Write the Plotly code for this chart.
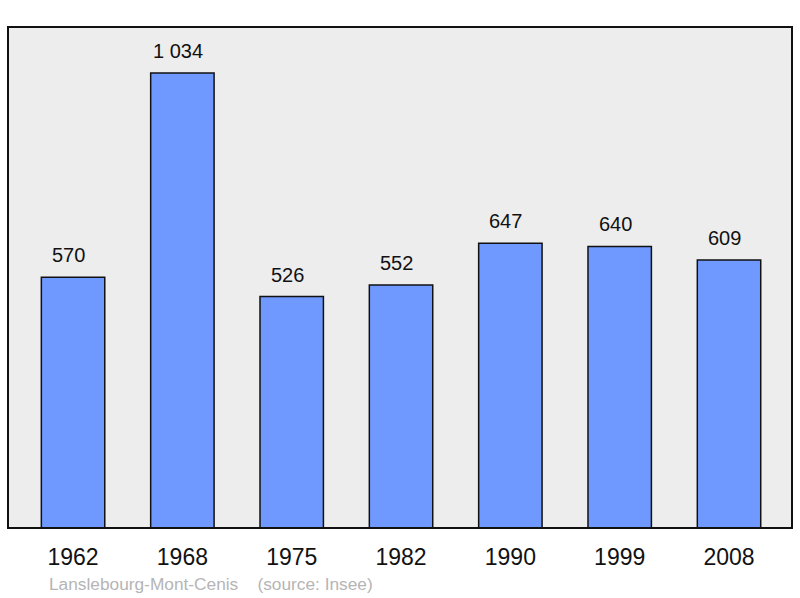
import plotly.graph_objects as go

years = ["1962", "1968", "1975", "1982", "1990", "1999", "2008"]
population = [570, 1034, 526, 552, 647, 640, 609]
value_labels = ["570", "1 034", "526", "552", "647", "640", "609"]
source_text = "Lanslebourg-Mont-Cenis    (source: Insee)"

fig = go.Figure()
fig.add_trace(go.Bar(
    x=list(range(len(years))), y=population, width=0.58,
    marker=dict(color="#7099ff", line=dict(color="#111111", width=1.5)),
    hoverinfo="skip",
))

for i, (v, lab) in enumerate(zip(population, value_labels)):
    fig.add_annotation(x=i, y=v, text=lab, showarrow=False, yanchor="bottom",
                       yshift=9, xshift=-4.5, font=dict(size=20, color="#111111"))

fig.add_annotation(xref="paper", yref="paper", x=(47 - 8) / 784, y=-(584 - 528) / 501,
                   xanchor="left", yanchor="middle", text=source_text, showarrow=False,
                   font=dict(size=17.3, color="#b5b5b5"))

fig.add_shape(type="rect", xref="paper", yref="paper", x0=0, x1=1, y0=0, y1=1,
              line=dict(color="#111111", width=2), layer="above")

fig.update_layout(
    width=800, height=598,
    margin=dict(l=8, r=8, t=27, b=70),
    paper_bgcolor="white", plot_bgcolor="#ededed",
    font=dict(family="Liberation Sans, Arial, sans-serif", color="#111111"),
    showlegend=False,
    xaxis=dict(range=[-0.595, 6.576], tickvals=list(range(len(years))), ticktext=years,
               showgrid=False, zeroline=False, tickfont=dict(size=23), ticks="",
               ticklabelstandoff=13),
    yaxis=dict(range=[0, 1138.6], showgrid=False, zeroline=False, showticklabels=False),
)

fig.write_html("out.html", config={"displayModeBar": False},
               post_script="document.body.style.margin='0';document.body.style.overflow='hidden';")
